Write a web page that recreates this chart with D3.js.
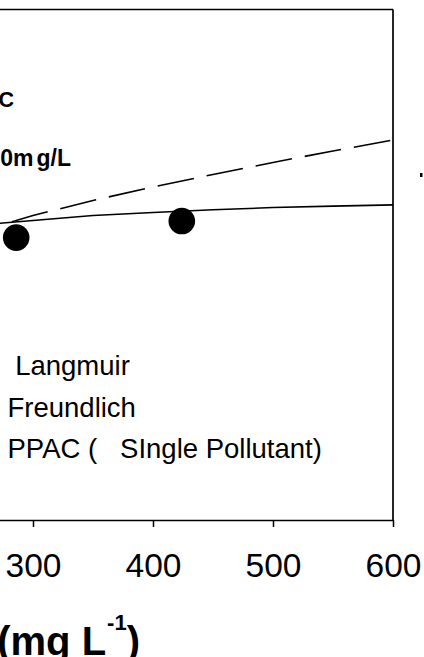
<!DOCTYPE html>
<html>
<head>
<meta charset="utf-8">
<script src="https://cdn.jsdelivr.net/npm/d3@7"></script>
<style>
  html, body { margin: 0; padding: 0; background: #fff; overflow: hidden; }
  svg { display: block; font-family: Arial, "Liberation Sans", sans-serif; }
</style>
</head>
<body>
<svg id="chart" width="424" height="657"></svg>
<script>
// Equilibrium concentration grid for the fitted isotherm curves (mg/L)
const ceFit = [0, 25, 50, 100, 150, 200, 250, 300, 350, 400, 450, 500, 550, 600];
// Langmuir fit, qe (mg/g)
const langmuirQe = [0, 70, 98, 122, 133, 139, 144.2, 146.7, 149.1, 150.6, 151.9, 153.0, 153.7, 154.3];
// Freundlich fit, qe (mg/g)
const freundlichQe = [0, 67, 84, 105, 119, 131, 140.5, 149.1, 156.5, 163.1, 169.2, 175.1, 180.7, 186.1];
// Measured points, PPAC single pollutant
const ppacCe = [25, 60, 115, 190, 286, 424];
const ppacQe = [62, 92, 118, 133, 138.3, 146.4];
// Axis ticks
const xTicks = [0, 100, 200, 300, 400, 500, 600];
// Legend entries
const legendLabels = [" Langmuir", "Freundlich", "PPAC (   SIngle Pollutant)"];
const legendKinds = ["solid", "dashed", "dot"];

const svg = d3.select("#chart");

const x = d3.scaleLinear().domain([0, 600]).range([-327, 393]);
const y = d3.scaleLinear().domain([0, 250]).range([520, 9.5]);

// Plot frame (top and right edges)
svg.append("line")
  .attr("x1", x.range()[0]).attr("x2", x.range()[1])
  .attr("y1", y.range()[1]).attr("y2", y.range()[1])
  .attr("stroke", "#000").attr("stroke-width", 1.7);
svg.append("line")
  .attr("x1", x.range()[1]).attr("x2", x.range()[1])
  .attr("y1", y.range()[1]).attr("y2", y.range()[0])
  .attr("stroke", "#000").attr("stroke-width", 1.7);

// Bottom axis
const xAxis = svg.append("g")
  .attr("transform", `translate(0,${y.range()[0]})`)
  .call(d3.axisBottom(x).tickValues(xTicks).tickSize(7).tickSizeOuter(0).tickPadding(26));
xAxis.select(".domain").attr("stroke", "#000").attr("stroke-width", 1.7);
xAxis.selectAll(".tick line").attr("stroke", "#000").attr("stroke-width", 1.5);
xAxis.selectAll(".tick text")
  .attr("fill", "#000")
  .attr("font-size", 33.5)
  .attr("font-family", "Arial, 'Liberation Sans', sans-serif");

// Axis title
const title = svg.append("text")
  .attr("x", 140).attr("y", 655)
  .attr("text-anchor", "end")
  .attr("font-weight", "bold")
  .attr("font-size", 40)
  .attr("fill", "#000");
title.append("tspan").text("Ce (mg L");
title.append("tspan").attr("font-size", 22).attr("dx", 1).attr("dy", -25).text("-1");
title.append("tspan").attr("dy", 25).text(")");

// Fitted curves
const line = d3.line().x(d => x(d[0])).y(d => y(d[1]));

svg.append("path")
  .datum(ceFit.map((c, i) => [c, langmuirQe[i]]))
  .attr("d", line)
  .attr("fill", "none").attr("stroke", "#000").attr("stroke-width", 1.6);

const fPath = svg.append("path")
  .datum(ceFit.map((c, i) => [c, freundlichQe[i]]))
  .attr("d", line)
  .attr("fill", "none").attr("stroke", "#000").attr("stroke-width", 1.6)
  .attr("stroke-dasharray", "37,13");

// Phase the dash pattern so a dash begins where the two fits cross
(function phaseDashes() {
  const node = fPath.node();
  const total = node.getTotalLength();
  let lo = 0, hi = total;
  const target = 12;
  for (let k = 0; k < 40; k++) {
    const mid = (lo + hi) / 2;
    if (node.getPointAtLength(mid).x < target) lo = mid; else hi = mid;
  }
  const period = 50;
  fPath.attr("stroke-dashoffset", period - (lo % period));
})();

// Measured points
svg.append("g").selectAll("circle")
  .data(ppacCe.map((c, i) => [c, ppacQe[i]]))
  .join("circle")
  .attr("cx", d => x(d[0])).attr("cy", d => y(d[1]))
  .attr("r", 13.3).attr("fill", "#000");

// Annotations
svg.append("text")
  .attr("x", 14).attr("y", 107)
  .attr("text-anchor", "end")
  .attr("font-weight", "bold").attr("font-size", 21.5).attr("fill", "#000")
  .text("PPAC");
const conc = svg.append("text")
  .attr("x", 71).attr("y", 166)
  .attr("text-anchor", "end")
  .attr("font-weight", "bold").attr("font-size", 23).attr("fill", "#000");
conc.append("tspan").text("Co = 100m");
conc.append("tspan").attr("dx", 3).text("g/L");

// Legend
const legend = svg.append("g");
const rowY = [375, 416.5, 458];
legendLabels.forEach((lab, i) => {
  const g = legend.append("g");
  const cy = rowY[i] - 9;
  if (legendKinds[i] === "dot") {
    g.append("circle").attr("cx", -40).attr("cy", cy).attr("r", 9).attr("fill", "#000");
  } else {
    g.append("line")
      .attr("x1", -80).attr("x2", -10).attr("y1", cy).attr("y2", cy)
      .attr("stroke", "#000").attr("stroke-width", 1.6)
      .attr("stroke-dasharray", legendKinds[i] === "dashed" ? "20,8" : null);
  }
  g.append("text")
    .attr("x", 7.5).attr("y", rowY[i])
    .attr("font-size", 27.5).attr("fill", "#000")
    .style("white-space", "pre")
    .text(lab);
});

// Edge of the neighbouring panel's tick mark
svg.append("rect")
  .attr("x", 420).attr("y", 173).attr("width", 2.5).attr("height", 4)
  .attr("fill", "#000");
</script>
</body>
</html>
